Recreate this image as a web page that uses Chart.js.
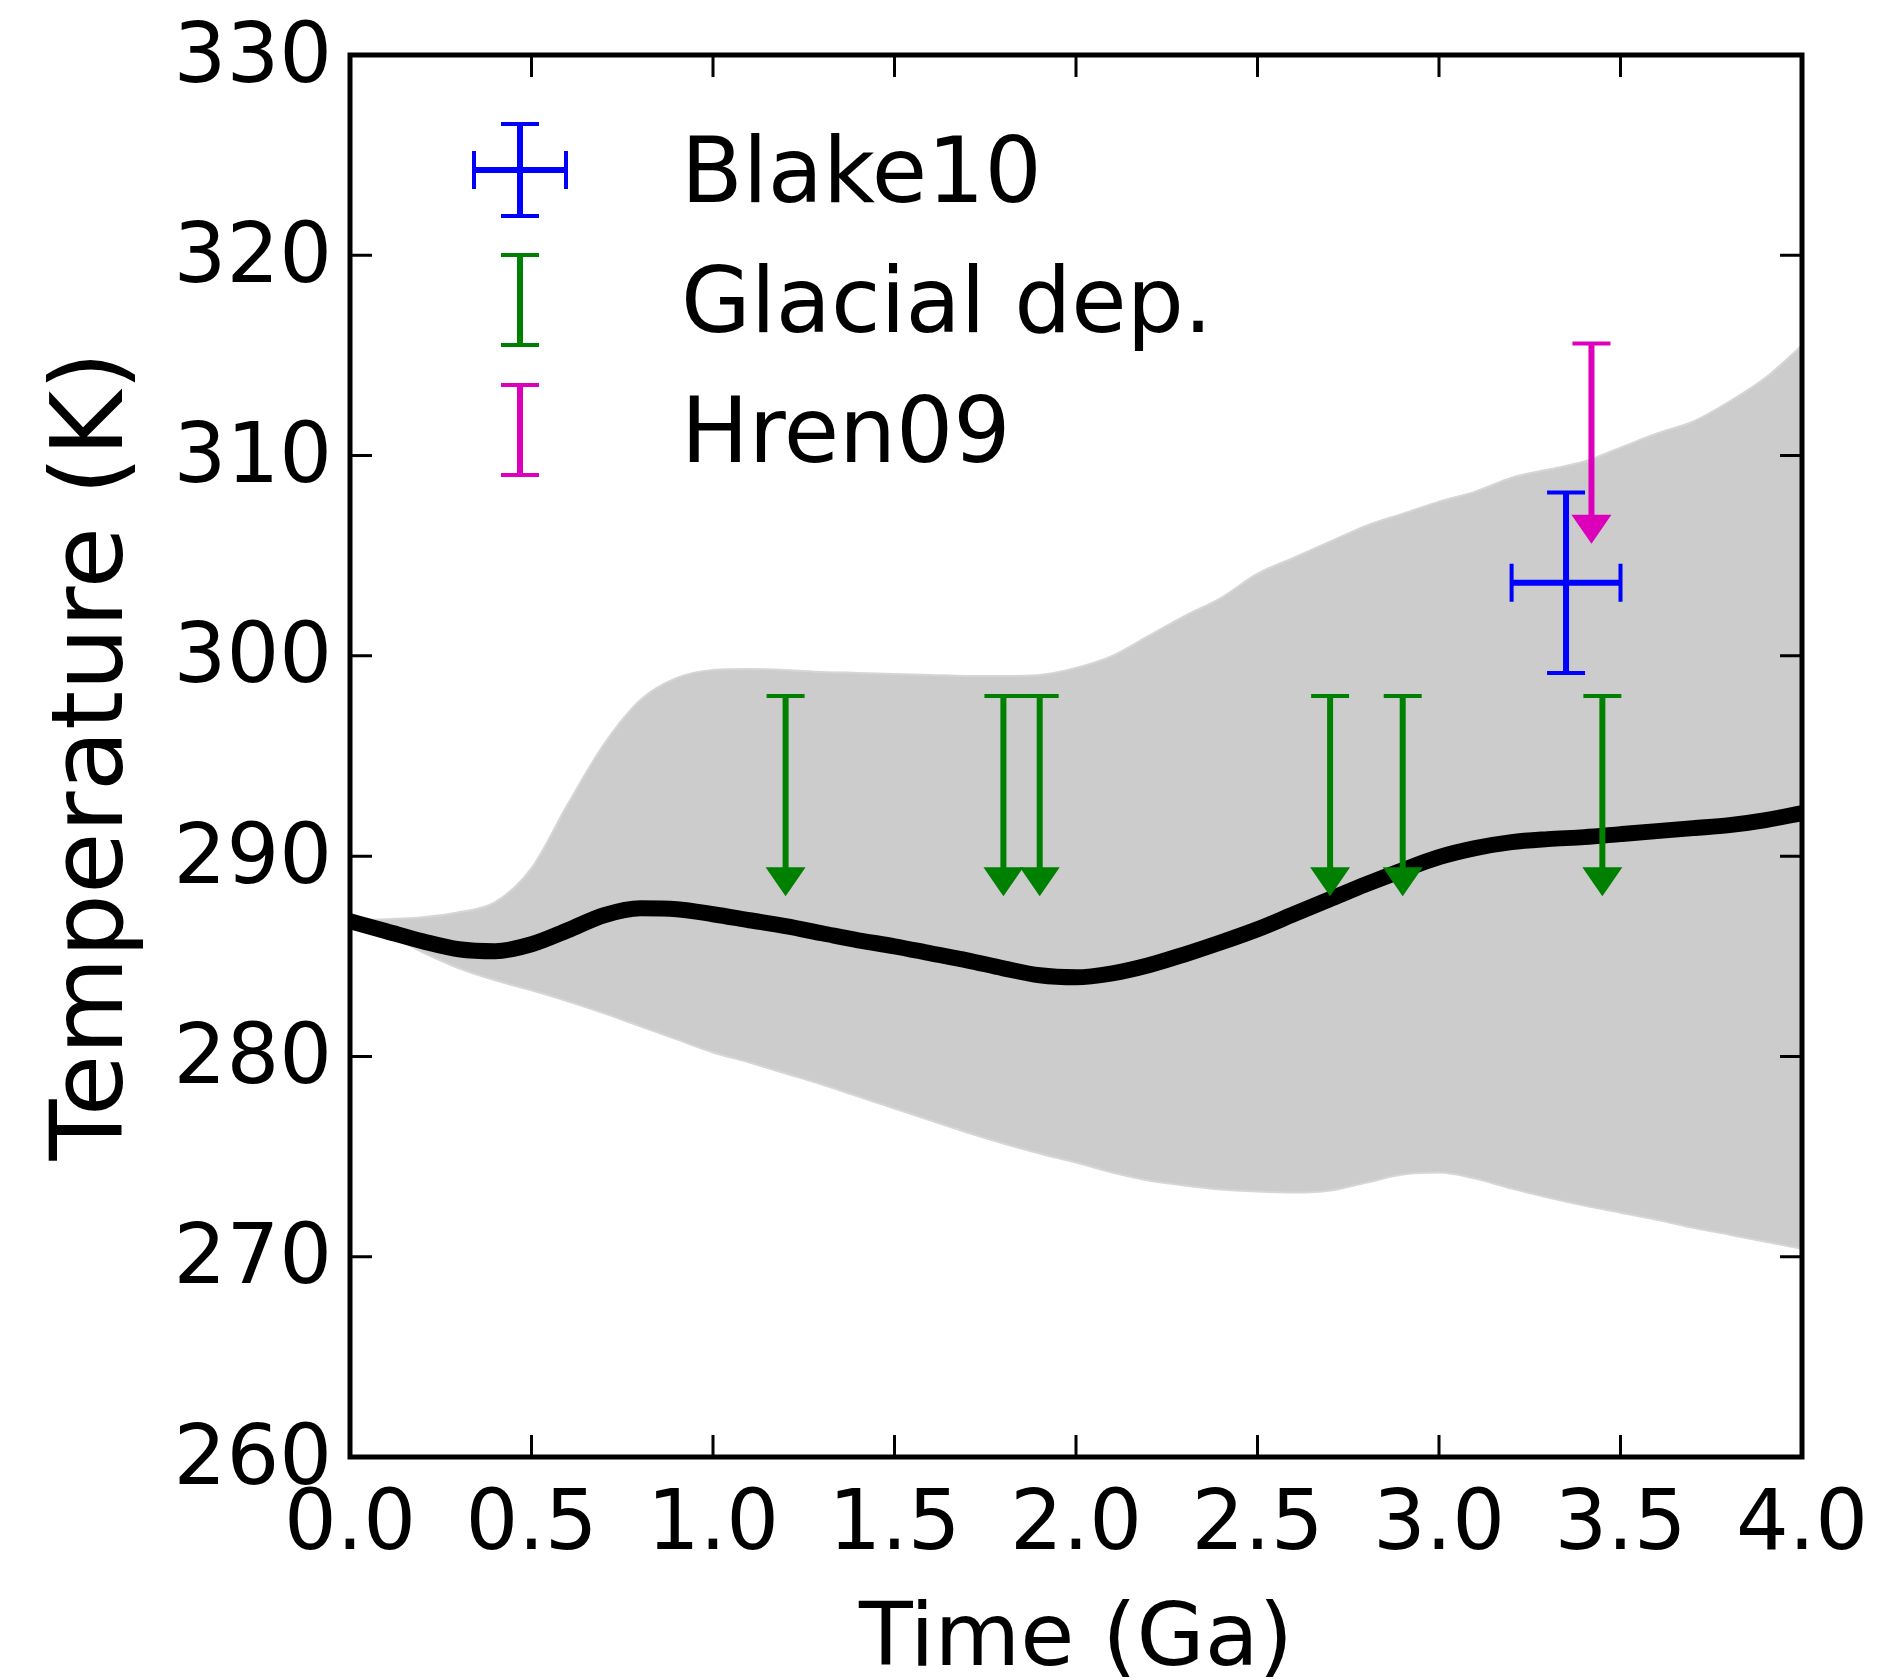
<!DOCTYPE html>
<html>
<head>
<meta charset="utf-8">
<script src="https://cdn.jsdelivr.net/npm/chart.js@4.4.1/dist/chart.umd.min.js"></script>
<style>
  html, body { margin: 0; padding: 0; background: #ffffff; }
  canvas { display: block; }
</style>
</head>
<body>
<canvas id="tempChart" width="1891" height="1680"></canvas>
<script>
// Model time grid (Ga) and temperatures (K)
const timeGrid = [0.0, 0.1, 0.2, 0.3, 0.4, 0.5, 0.6, 0.7, 0.8, 0.9,
                  1.0, 1.1, 1.2, 1.3, 1.4, 1.5, 1.6, 1.7, 1.8, 1.9,
                  2.0, 2.1, 2.2, 2.3, 2.4, 2.5, 2.6, 2.7, 2.8, 2.9,
                  3.0, 3.1, 3.2, 3.3, 3.4, 3.5, 3.6, 3.7, 3.8, 3.9, 4.0];

const meanTemp = [286.75, 286.25, 285.75, 285.35, 285.25, 285.6, 286.3, 287.05, 287.4, 287.35,
                  287.1, 286.8, 286.5, 286.15, 285.8, 285.5, 285.15, 284.8, 284.4, 284.05,
                  283.95, 284.15, 284.55, 285.1, 285.7, 286.35, 287.1, 287.85, 288.6, 289.3,
                  289.95, 290.4, 290.7, 290.85, 290.95, 291.1, 291.25, 291.4, 291.55, 291.8, 292.15];

const bandUpper = [286.8, 286.85, 286.95, 287.2, 287.7, 289.4, 292.6, 295.6, 297.8, 298.9,
                   299.3, 299.35, 299.3, 299.2, 299.15, 299.1, 299.05, 299.0, 299.0, 299.05,
                   299.4, 300.0, 301.0, 302.0, 302.9, 304.1, 304.9, 305.7, 306.5, 307.1,
                   307.7, 308.2, 308.9, 309.3, 309.7, 310.4, 311.1, 311.7, 312.7, 313.9, 315.5];

const bandLower = [286.7, 286.1, 285.2, 284.4, 283.8, 283.3, 282.75, 282.15, 281.5, 280.85,
                   280.2, 279.7, 279.15, 278.6, 278.0, 277.4, 276.8, 276.2, 275.65, 275.15,
                   274.7, 274.2, 273.8, 273.55, 273.35, 273.25, 273.2, 273.3, 273.7, 274.1,
                   274.2, 273.9, 273.4, 272.95, 272.55, 272.2, 271.85, 271.45, 271.1, 270.75, 270.4];

// Proxy constraints
const glacialTime = [1.2, 1.8, 1.9, 2.7, 2.9, 3.45];
const glacialLimit = [298, 298, 298, 298, 298, 298];
const glacialArrow = [10, 10, 10, 10, 10, 10];

const hrenTime = [3.42];
const hrenLimit = [315.6];
const hrenArrow = [10];

const blakeTime = [3.35];
const blakeTemp = [303.65];
const blakeTimeErr = [0.15];
const blakeTempErr = [4.5];

const legendLabels = ['Blake10', 'Glacial dep.', 'Hren09'];

const xTicks = [0, 0.5, 1, 1.5, 2, 2.5, 3, 3.5, 4];
const yTicks = [260, 270, 280, 290, 300, 310, 320, 330];

const BLUE = '#0000ff';
const GREEN = '#008000';
const MAGENTA = '#dd00bb';

function toPoints(xs, ys) {
    return xs.map((v, i) => ({ x: v, y: ys[i] }));
}

// --- drawing helpers for error bars ---
function vCap(ctx, x, y, w) {
    ctx.beginPath();
    ctx.moveTo(x - w / 2, y);
    ctx.lineTo(x + w / 2, y);
    ctx.stroke();
}

function hCap(ctx, x, y, h) {
    ctx.beginPath();
    ctx.moveTo(x, y - h / 2);
    ctx.lineTo(x, y + h / 2);
    ctx.stroke();
}

function upperLimit(ctx, px, pyTop, pyTip, color) {
    const headH = 29, headW = 40;
    ctx.strokeStyle = color;
    ctx.fillStyle = color;
    ctx.lineWidth = 6;
    ctx.beginPath();
    ctx.moveTo(px, pyTop);
    ctx.lineTo(px, pyTip - headH + 2);
    ctx.stroke();
    ctx.lineWidth = 4;
    vCap(ctx, px, pyTop, 38);
    ctx.beginPath();
    ctx.moveTo(px - headW / 2, pyTip - headH);
    ctx.lineTo(px + headW / 2, pyTip - headH);
    ctx.lineTo(px, pyTip);
    ctx.closePath();
    ctx.fill();
}

function crossBar(ctx, px0, px1, py0, py1, cx, cy, color) {
    ctx.strokeStyle = color;
    ctx.lineWidth = 6;
    ctx.beginPath();
    ctx.moveTo(px0, cy); ctx.lineTo(px1, cy);
    ctx.moveTo(cx, py0); ctx.lineTo(cx, py1);
    ctx.stroke();
    ctx.lineWidth = 4;
    hCap(ctx, px0, cy, 38);
    hCap(ctx, px1, cy, 38);
    vCap(ctx, cx, py0, 38);
    vCap(ctx, cx, py1, 38);
}

const markersPlugin = {
    id: 'markers',
    afterDatasetsDraw(chart) {
        const { ctx, chartArea: a, scales: { x, y } } = chart;
        ctx.save();
        ctx.beginPath();
        ctx.rect(a.left, a.top, a.right - a.left, a.bottom - a.top);
        ctx.clip();

        glacialTime.forEach((t, i) => {
            upperLimit(ctx, x.getPixelForValue(t),
                y.getPixelForValue(glacialLimit[i]),
                y.getPixelForValue(glacialLimit[i] - glacialArrow[i]), GREEN);
        });

        hrenTime.forEach((t, i) => {
            upperLimit(ctx, x.getPixelForValue(t),
                y.getPixelForValue(hrenLimit[i]),
                y.getPixelForValue(hrenLimit[i] - hrenArrow[i]), MAGENTA);
        });

        blakeTime.forEach((t, i) => {
            crossBar(ctx,
                x.getPixelForValue(t - blakeTimeErr[i]), x.getPixelForValue(t + blakeTimeErr[i]),
                y.getPixelForValue(blakeTemp[i] + blakeTempErr[i]), y.getPixelForValue(blakeTemp[i] - blakeTempErr[i]),
                x.getPixelForValue(t), y.getPixelForValue(blakeTemp[i]), BLUE);
        });
        ctx.restore();
    },
    afterDraw(chart) {
        const { ctx, chartArea: a, scales: { x, y } } = chart;
        ctx.save();
        // inward ticks on all four sides
        ctx.strokeStyle = '#000';
        ctx.lineWidth = 3;
        const tl = 22;
        ctx.beginPath();
        x.ticks.forEach(tk => {
            const px = x.getPixelForValue(tk.value);
            ctx.moveTo(px, a.bottom); ctx.lineTo(px, a.bottom - tl);
            ctx.moveTo(px, a.top); ctx.lineTo(px, a.top + tl);
        });
        y.ticks.forEach(tk => {
            const py = y.getPixelForValue(tk.value);
            ctx.moveTo(a.left, py); ctx.lineTo(a.left + tl, py);
            ctx.moveTo(a.right, py); ctx.lineTo(a.right - tl, py);
        });
        ctx.stroke();

        // frame
        ctx.lineWidth = 5;
        ctx.strokeRect(a.left, a.top, a.right - a.left, a.bottom - a.top);

        // legend
        const lx = 520, textX = 681;
        const rows = [170, 300, 430];
        crossBar(ctx, lx - 46, lx + 46, rows[0] - 46, rows[0] + 46, lx, rows[0], BLUE);
        [[rows[1], GREEN], [rows[2], MAGENTA]].forEach(([ry, col]) => {
            ctx.strokeStyle = col;
            ctx.lineWidth = 6;
            ctx.beginPath();
            ctx.moveTo(lx, ry - 45); ctx.lineTo(lx, ry + 45);
            ctx.stroke();
            ctx.lineWidth = 4;
            vCap(ctx, lx, ry - 45, 38);
            vCap(ctx, lx, ry + 45, 38);
        });
        ctx.fillStyle = '#000';
        ctx.font = '90px "DejaVu Sans"';
        ctx.textAlign = 'left';
        ctx.textBaseline = 'alphabetic';
        legendLabels.forEach((lab, i) => ctx.fillText(lab, textX, rows[i] + 32));
        ctx.restore();
    }
};

Chart.defaults.font.family = '"DejaVu Sans", sans-serif';
Chart.defaults.color = '#000';

new Chart(document.getElementById('tempChart'), {
    type: 'line',
    data: {
        datasets: [
            {
                label: 'lower',
                data: toPoints(timeGrid, bandLower),
                borderColor: '#d6d6d6',
                borderWidth: 2,
                pointRadius: 0,
                fill: false,
                cubicInterpolationMode: 'monotone',
                order: 2
            },
            {
                label: 'upper',
                data: toPoints(timeGrid, bandUpper),
                borderColor: '#d6d6d6',
                borderWidth: 2,
                backgroundColor: '#cccccc',
                pointRadius: 0,
                fill: '-1',
                cubicInterpolationMode: 'monotone',
                order: 2
            },
            {
                label: 'mean',
                data: toPoints(timeGrid, meanTemp),
                borderColor: '#000000',
                borderWidth: 16,
                pointRadius: 0,
                fill: false,
                cubicInterpolationMode: 'monotone',
                order: 0
            }
        ]
    },
    options: {
        responsive: false,
        animation: false,
        devicePixelRatio: 1,
        layout: { padding: { top: 55, right: 89, left: 0, bottom: 0 } },
        plugins: {
            legend: { display: false },
            tooltip: { enabled: false }
        },
        scales: {
            x: {
                type: 'linear',
                min: 0,
                max: 4,
                afterBuildTicks: s => { s.ticks = xTicks.map(v => ({ value: v })); },
                afterFit: s => { s.height = 223; s.paddingLeft = 0; s.paddingRight = 0; },
                grid: { display: false },
                border: { display: false },
                ticks: {
                    padding: 13,
                    font: { size: 83 },
                    maxRotation: 0,
                    autoSkip: false,
                    callback: v => Number(v).toFixed(1)
                },
                title: {
                    display: true,
                    text: 'Time (Ga)',
                    font: { size: 88, lineHeight: 0.8 },
                    padding: { top: 0, bottom: 3 }
                }
            },
            y: {
                type: 'linear',
                min: 260,
                max: 330,
                afterBuildTicks: s => { s.ticks = yTicks.map(v => ({ value: v })); },
                afterFit: s => { s.width = 350; s.paddingTop = 0; s.paddingBottom = 0; },
                grid: { display: false },
                border: { display: false },
                ticks: {
                    padding: 10,
                    labelOffset: 5,
                    font: { size: 83 },
                    autoSkip: false,
                    callback: v => String(v)
                },
                title: {
                    display: true,
                    text: 'Temperature (K)',
                    font: { size: 100, lineHeight: 0.8 },
                    padding: { top: 56, bottom: 0 }
                }
            }
        }
    },
    plugins: [markersPlugin]
});
</script>
</body>
</html>
